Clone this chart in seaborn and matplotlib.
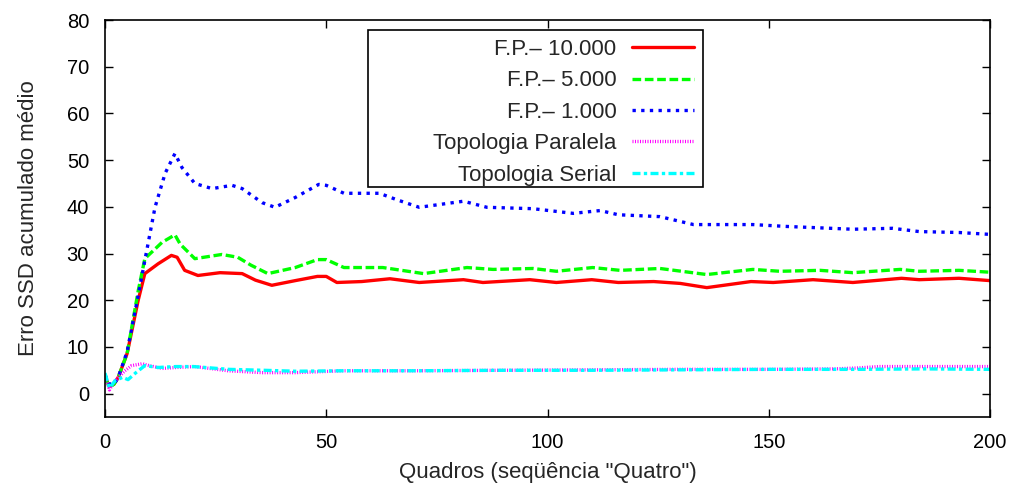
import numpy as np
import pandas as pd
import matplotlib
matplotlib.use("Agg")
import matplotlib.pyplot as plt
from matplotlib.patches import Rectangle
import seaborn as sns

# ---- data ----
red_x = [0, 1, 2, 3, 5, 7.5, 9, 12, 15, 16.3, 18, 21, 26, 31, 34, 37.7, 43, 48, 50, 52.4, 58, 64.4, 71, 81, 85.4, 96, 102, 110, 116, 124, 130, 136, 146, 151, 160, 169, 180, 184, 193, 200]
red_y = [3.5, 1.5, 2.0, 3.5, 8.6, 20, 25.7, 27.8, 29.6, 29.2, 26.4, 25.3, 25.9, 25.7, 24.3, 23.2, 24.2, 25.1, 25.1, 23.8, 24.0, 24.6, 23.8, 24.4, 23.8, 24.4, 23.8, 24.4, 23.8, 24.0, 23.6, 22.7, 24.0, 23.8, 24.4, 23.8, 24.7, 24.4, 24.7, 24.2]

green_x = [0, 1, 2, 3, 5, 7.5, 9, 12.9, 15.8, 17, 20.3, 26.4, 30, 33, 36.8, 43, 48, 50, 54, 62.8, 72, 81.8, 87.7, 96.7, 102, 110.2, 116.4, 125.4, 136, 146.4, 152.5, 161.6, 169, 179.7, 184, 193, 200]
green_y = [3.5, 1.5, 2.0, 3.5, 8.6, 22, 28.9, 32.4, 34.0, 32, 28.9, 29.8, 29.2, 27.5, 25.7, 27.0, 28.7, 28.7, 27.0, 27.0, 25.7, 27.0, 26.6, 26.8, 26.2, 27.0, 26.4, 26.8, 25.5, 26.6, 26.2, 26.4, 25.9, 26.6, 26.2, 26.4, 26.0]

blue_x = [0, 1, 2, 3, 5, 7.5, 9, 11.3, 13.6, 15.8, 17.4, 20.3, 24.2, 28.7, 31, 35.5, 38.4, 43, 48.3, 50, 54, 62, 66, 71, 81, 86.3, 96.7, 105.8, 111.9, 116, 125.4, 133, 146.4, 154, 169, 178, 184, 193, 200]
blue_y = [4.0, 2.0, 2.0, 3.5, 9.0, 21, 28.5, 39.9, 47.2, 51.4, 48.4, 45.0, 43.9, 44.6, 43.9, 40.9, 39.9, 42.0, 44.8, 44.6, 42.9, 42.9, 41.5, 39.9, 41.2, 39.9, 39.6, 38.6, 39.2, 38.3, 37.9, 36.2, 36.2, 35.8, 35.2, 35.4, 34.7, 34.5, 34.1]

mag_x = [0, 1, 2, 4.5, 6, 8.4, 10, 12.9, 16, 20.3, 27.8, 35.5, 43, 54, 70, 90, 110, 130, 150, 165, 170, 175, 185, 200]
mag_y = [3.9, 0.8, 2.5, 4.9, 6.0, 6.4, 6.0, 5.4, 5.6, 5.8, 4.9, 4.5, 4.5, 4.9, 4.9, 5.0, 5.1, 5.2, 5.2, 5.3, 5.5, 5.8, 5.8, 5.8]

cyan_x = [0, 1, 2.3, 4, 5.2, 7, 9, 12, 16, 20, 28, 36, 43, 54, 70, 90, 110, 130, 150, 170, 185, 200]
cyan_y = [4.4, 1.2, 2.8, 3.5, 3.0, 4.5, 6.0, 5.6, 5.8, 5.8, 5.2, 5.0, 4.8, 4.9, 4.9, 5.0, 5.0, 5.1, 5.2, 5.2, 5.3, 5.2]

labels = ["F.P.\u2013 10.000", "F.P.\u2013 5.000", "F.P.\u2013 1.000", "Topologia Paralela", "Topologia Serial"]
x_ticks = [0, 50, 100, 150, 200]
y_ticks = [0, 10, 20, 30, 40, 50, 60, 70, 80]
xlabel = 'Quadros (seq\u00fc\u00eancia "Quatro")'
ylabel = "Erro SSD acumulado m\u00e9dio"

# ---- style ----
sns.set_style("ticks")
plt.rcParams["font.family"] = ["Liberation Sans", "DejaVu Sans"]
plt.rcParams["font.size"] = 16

fig = plt.figure(figsize=(10.18, 4.94), dpi=100)
ax = fig.add_axes([105 / 1018, 1 - 417 / 494, 885 / 1018, 397 / 494])

series = [
    (red_x, red_y, "#ff0000", 2.4, "-", labels[0]),
    (green_x, green_y, "#00ff00", 2.4, (0, (2.6, 1.1)), labels[1]),
    (blue_x, blue_y, "#0000ff", 2.4, (0, (1.0, 1.6)), labels[2]),
    (mag_x, mag_y, "#ff00ff", 2.4, (0, (0.3, 0.45)), labels[3]),
    (cyan_x, cyan_y, "#00ffff", 2.4, (0, (2.4, 1.0, 1.0, 1.0)), labels[4]),
]
for xs, ys, col, lw, ls, lab in series:
    df = pd.DataFrame({"x": xs, "y": ys})
    sns.lineplot(data=df, x="x", y="y", ax=ax, color=col, linewidth=lw,
                 linestyle=ls, label=lab, sort=False)

ax.set_xlim(0, 200)
ax.set_ylim(-5, 80)
ax.set_xticks(x_ticks)
ax.set_yticks(y_ticks)
ax.set_xlabel(xlabel, fontsize=16, labelpad=7)
ax.set_ylabel(ylabel, fontsize=16, labelpad=20)
ax.tick_params(direction="in", length=6, width=1, top=True, right=True,
               labelsize=14.5, colors="black", pad=11.5)
for s in ax.spines.values():
    s.set_color("black")
    s.set_linewidth(1.2)
    s.set_visible(True)

# legend box (gnuplot-style, wider than its contents)
box = Rectangle((0.2972, 0.5793), 0.6757 - 0.2972, 0.9748 - 0.5793,
                transform=ax.transAxes, facecolor="white", edgecolor="black",
                linewidth=1.2, zorder=4)
ax.add_patch(box)
leg = ax.legend(loc="upper right", bbox_to_anchor=(0.6757, 0.9748),
                markerfirst=False, frameon=False, fontsize=16,
                handlelength=2.8, handletextpad=0.7, labelspacing=0.47,
                borderpad=0.4, borderaxespad=0)
leg.set_zorder(5)

fig.savefig("out.png", dpi=100)
